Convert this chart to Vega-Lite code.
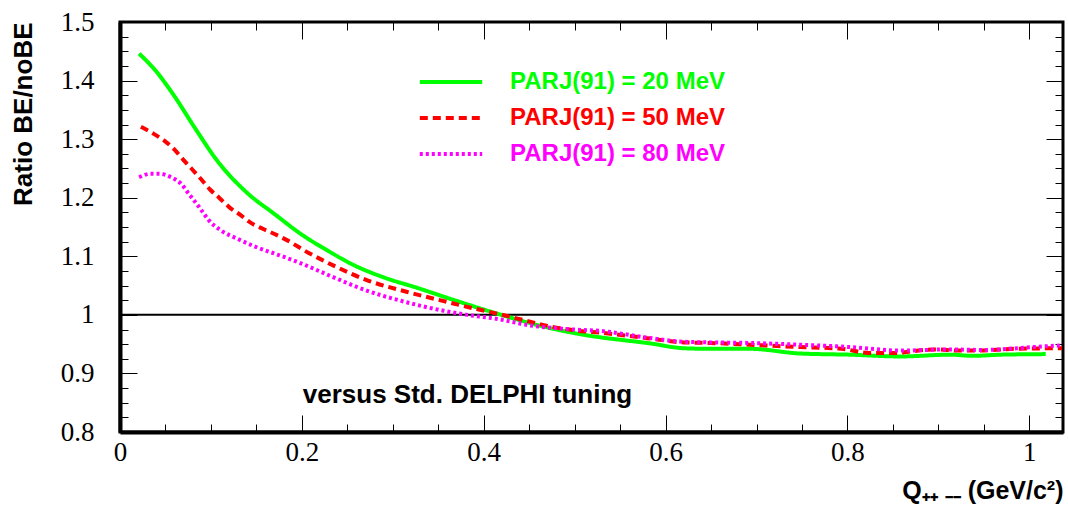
{
  "$schema": "https://vega.github.io/schema/vega-lite/v6.json",
  "width": 943,
  "height": 410,
  "autosize": "none",
  "padding": {"left": 120, "top": 22, "right": 5, "bottom": 75},
  "background": "white",
  "config": {
    "view": {"stroke": "black", "strokeWidth": 3},
    "axis": {"grid": false, "tickColor": "black", "tickWidth": 1, "domainColor": "black", "labelColor": "black", "titleColor": "black"}
  },
  "datasets": {
    "curves": [
      {"series": "PARJ(91) = 20 MeV", "q": 0.021, "r": 1.446},
      {"series": "PARJ(91) = 20 MeV", "q": 0.038, "r": 1.419},
      {"series": "PARJ(91) = 20 MeV", "q": 0.060, "r": 1.373},
      {"series": "PARJ(91) = 20 MeV", "q": 0.082, "r": 1.320},
      {"series": "PARJ(91) = 20 MeV", "q": 0.107, "r": 1.263},
      {"series": "PARJ(91) = 20 MeV", "q": 0.140, "r": 1.208},
      {"series": "PARJ(91) = 20 MeV", "q": 0.170, "r": 1.172},
      {"series": "PARJ(91) = 20 MeV", "q": 0.199, "r": 1.138},
      {"series": "PARJ(91) = 20 MeV", "q": 0.228, "r": 1.110},
      {"series": "PARJ(91) = 20 MeV", "q": 0.257, "r": 1.085},
      {"series": "PARJ(91) = 20 MeV", "q": 0.290, "r": 1.064},
      {"series": "PARJ(91) = 20 MeV", "q": 0.327, "r": 1.046},
      {"series": "PARJ(91) = 20 MeV", "q": 0.364, "r": 1.027},
      {"series": "PARJ(91) = 20 MeV", "q": 0.415, "r": 1.002},
      {"series": "PARJ(91) = 20 MeV", "q": 0.474, "r": 0.977},
      {"series": "PARJ(91) = 20 MeV", "q": 0.510, "r": 0.966},
      {"series": "PARJ(91) = 20 MeV", "q": 0.584, "r": 0.951},
      {"series": "PARJ(91) = 20 MeV", "q": 0.620, "r": 0.943},
      {"series": "PARJ(91) = 20 MeV", "q": 0.649, "r": 0.942},
      {"series": "PARJ(91) = 20 MeV", "q": 0.693, "r": 0.942},
      {"series": "PARJ(91) = 20 MeV", "q": 0.748, "r": 0.934},
      {"series": "PARJ(91) = 20 MeV", "q": 0.803, "r": 0.932},
      {"series": "PARJ(91) = 20 MeV", "q": 0.858, "r": 0.929},
      {"series": "PARJ(91) = 20 MeV", "q": 0.913, "r": 0.932},
      {"series": "PARJ(91) = 20 MeV", "q": 0.938, "r": 0.930},
      {"series": "PARJ(91) = 20 MeV", "q": 0.968, "r": 0.932},
      {"series": "PARJ(91) = 20 MeV", "q": 1.018, "r": 0.933},
      {"series": "PARJ(91) = 50 MeV", "q": 0.023, "r": 1.321},
      {"series": "PARJ(91) = 50 MeV", "q": 0.036, "r": 1.310},
      {"series": "PARJ(91) = 50 MeV", "q": 0.049, "r": 1.297},
      {"series": "PARJ(91) = 50 MeV", "q": 0.060, "r": 1.282},
      {"series": "PARJ(91) = 50 MeV", "q": 0.069, "r": 1.266},
      {"series": "PARJ(91) = 50 MeV", "q": 0.079, "r": 1.249},
      {"series": "PARJ(91) = 50 MeV", "q": 0.089, "r": 1.232},
      {"series": "PARJ(91) = 50 MeV", "q": 0.099, "r": 1.214},
      {"series": "PARJ(91) = 50 MeV", "q": 0.109, "r": 1.200},
      {"series": "PARJ(91) = 50 MeV", "q": 0.120, "r": 1.184},
      {"series": "PARJ(91) = 50 MeV", "q": 0.132, "r": 1.171},
      {"series": "PARJ(91) = 50 MeV", "q": 0.144, "r": 1.157},
      {"series": "PARJ(91) = 50 MeV", "q": 0.157, "r": 1.147},
      {"series": "PARJ(91) = 50 MeV", "q": 0.170, "r": 1.138},
      {"series": "PARJ(91) = 50 MeV", "q": 0.183, "r": 1.128},
      {"series": "PARJ(91) = 50 MeV", "q": 0.206, "r": 1.107},
      {"series": "PARJ(91) = 50 MeV", "q": 0.235, "r": 1.084},
      {"series": "PARJ(91) = 50 MeV", "q": 0.272, "r": 1.059},
      {"series": "PARJ(91) = 50 MeV", "q": 0.316, "r": 1.039},
      {"series": "PARJ(91) = 50 MeV", "q": 0.360, "r": 1.022},
      {"series": "PARJ(91) = 50 MeV", "q": 0.389, "r": 1.011},
      {"series": "PARJ(91) = 50 MeV", "q": 0.415, "r": 1.002},
      {"series": "PARJ(91) = 50 MeV", "q": 0.444, "r": 0.991},
      {"series": "PARJ(91) = 50 MeV", "q": 0.474, "r": 0.980},
      {"series": "PARJ(91) = 50 MeV", "q": 0.503, "r": 0.973},
      {"series": "PARJ(91) = 50 MeV", "q": 0.532, "r": 0.969},
      {"series": "PARJ(91) = 50 MeV", "q": 0.576, "r": 0.961},
      {"series": "PARJ(91) = 50 MeV", "q": 0.620, "r": 0.953},
      {"series": "PARJ(91) = 50 MeV", "q": 0.649, "r": 0.952},
      {"series": "PARJ(91) = 50 MeV", "q": 0.693, "r": 0.949},
      {"series": "PARJ(91) = 50 MeV", "q": 0.748, "r": 0.945},
      {"series": "PARJ(91) = 50 MeV", "q": 0.794, "r": 0.942},
      {"series": "PARJ(91) = 50 MeV", "q": 0.823, "r": 0.935},
      {"series": "PARJ(91) = 50 MeV", "q": 0.853, "r": 0.935},
      {"series": "PARJ(91) = 50 MeV", "q": 0.867, "r": 0.937},
      {"series": "PARJ(91) = 50 MeV", "q": 0.895, "r": 0.941},
      {"series": "PARJ(91) = 50 MeV", "q": 0.924, "r": 0.939},
      {"series": "PARJ(91) = 50 MeV", "q": 0.942, "r": 0.939},
      {"series": "PARJ(91) = 50 MeV", "q": 0.983, "r": 0.942},
      {"series": "PARJ(91) = 50 MeV", "q": 1.036, "r": 0.943},
      {"series": "PARJ(91) = 80 MeV", "q": 0.021, "r": 1.235},
      {"series": "PARJ(91) = 80 MeV", "q": 0.034, "r": 1.241},
      {"series": "PARJ(91) = 80 MeV", "q": 0.043, "r": 1.241},
      {"series": "PARJ(91) = 80 MeV", "q": 0.056, "r": 1.235},
      {"series": "PARJ(91) = 80 MeV", "q": 0.067, "r": 1.224},
      {"series": "PARJ(91) = 80 MeV", "q": 0.076, "r": 1.206},
      {"series": "PARJ(91) = 80 MeV", "q": 0.087, "r": 1.184},
      {"series": "PARJ(91) = 80 MeV", "q": 0.098, "r": 1.161},
      {"series": "PARJ(91) = 80 MeV", "q": 0.111, "r": 1.144},
      {"series": "PARJ(91) = 80 MeV", "q": 0.129, "r": 1.130},
      {"series": "PARJ(91) = 80 MeV", "q": 0.151, "r": 1.115},
      {"series": "PARJ(91) = 80 MeV", "q": 0.173, "r": 1.103},
      {"series": "PARJ(91) = 80 MeV", "q": 0.199, "r": 1.088},
      {"series": "PARJ(91) = 80 MeV", "q": 0.235, "r": 1.064},
      {"series": "PARJ(91) = 80 MeV", "q": 0.272, "r": 1.041},
      {"series": "PARJ(91) = 80 MeV", "q": 0.309, "r": 1.024},
      {"series": "PARJ(91) = 80 MeV", "q": 0.356, "r": 1.007},
      {"series": "PARJ(91) = 80 MeV", "q": 0.382, "r": 1.000},
      {"series": "PARJ(91) = 80 MeV", "q": 0.415, "r": 0.993},
      {"series": "PARJ(91) = 80 MeV", "q": 0.451, "r": 0.982},
      {"series": "PARJ(91) = 80 MeV", "q": 0.488, "r": 0.976},
      {"series": "PARJ(91) = 80 MeV", "q": 0.532, "r": 0.972},
      {"series": "PARJ(91) = 80 MeV", "q": 0.576, "r": 0.962},
      {"series": "PARJ(91) = 80 MeV", "q": 0.620, "r": 0.954},
      {"series": "PARJ(91) = 80 MeV", "q": 0.649, "r": 0.953},
      {"series": "PARJ(91) = 80 MeV", "q": 0.693, "r": 0.952},
      {"series": "PARJ(91) = 80 MeV", "q": 0.748, "r": 0.949},
      {"series": "PARJ(91) = 80 MeV", "q": 0.803, "r": 0.945},
      {"series": "PARJ(91) = 80 MeV", "q": 0.858, "r": 0.939},
      {"series": "PARJ(91) = 80 MeV", "q": 0.913, "r": 0.941},
      {"series": "PARJ(91) = 80 MeV", "q": 0.949, "r": 0.940},
      {"series": "PARJ(91) = 80 MeV", "q": 1.004, "r": 0.945},
      {"series": "PARJ(91) = 80 MeV", "q": 1.036, "r": 0.948}
    ]
  },
  "layer": [
    {
      "data": {"values": [{"r": 1}]},
      "mark": {"type": "rule", "color": "black", "strokeWidth": 2},
      "encoding": {
        "y": {"field": "r", "type": "quantitative", "axis": null, "scale": {"domain": [0.8, 1.5], "nice": false, "zero": false}}
      }
    },
    {
      "data": {"name": "curves"},
      "mark": {"type": "line", "interpolate": "monotone", "strokeWidth": 4},
      "encoding": {
        "x": {
          "field": "q", "type": "quantitative",
          "scale": {"domain": [0, 1.037], "nice": false, "zero": false},
          "axis": {
            "orient": "bottom",
            "values": [0, 0.05, 0.1, 0.15, 0.2, 0.25, 0.3, 0.35, 0.4, 0.45, 0.5, 0.55, 0.6, 0.65, 0.7, 0.75, 0.8, 0.85, 0.9, 0.95, 1.0],
            "labelExpr": "round(datum.value*20) % 4 == 0 ? format(datum.value, '~g') : ''",
            "tickSize": {"condition": {"test": "round(datum.value*20) % 4 == 0", "value": -17}, "value": -8},
            "domainWidth": 4,
            "labelFont": "Liberation Serif", "labelFontSize": 27, "labelPadding": 24,
            "labelFlush": false, "labelOverlap": false,
            "title": "Q₊₊ ₋₋ (GeV/c²)",
            "titleFont": "Liberation Sans", "titleFontWeight": "bold", "titleFontSize": 25,
            "titleAnchor": "end", "titleAlign": "right", "titleAngle": 0,
            "titleX": 943, "titleY": 66, "titleBaseline": "alphabetic"
          }
        },
        "y": {
          "field": "r", "type": "quantitative",
          "scale": {"domain": [0.8, 1.5], "nice": false, "zero": false},
          "axis": {
            "orient": "left",
            "values": [0.8, 0.825, 0.85, 0.875, 0.9, 0.925, 0.95, 0.975, 1.0, 1.025, 1.05, 1.075, 1.1, 1.125, 1.15, 1.175, 1.2, 1.225, 1.25, 1.275, 1.3, 1.325, 1.35, 1.375, 1.4, 1.425, 1.45, 1.475, 1.5],
            "labelExpr": "round(datum.value*40) % 4 == 0 ? format(datum.value, '~g') : ''",
            "tickSize": {"condition": {"test": "round(datum.value*40) % 4 == 0", "value": -17}, "value": -8},
            "domainWidth": 4,
            "labelFont": "Liberation Serif", "labelFontSize": 27, "labelPadding": 43,
            "labelFlush": false, "labelOverlap": false,
            "title": "Ratio BE/noBE",
            "titleFont": "Liberation Sans", "titleFontWeight": "bold", "titleFontSize": 26,
            "titleAngle": -90, "titleAlign": "right", "titleBaseline": "middle",
            "titleX": -97, "titleY": 0
          }
        },
        "color": {
          "field": "series", "type": "nominal",
          "scale": {"domain": ["PARJ(91) = 20 MeV", "PARJ(91) = 50 MeV", "PARJ(91) = 80 MeV"], "range": ["#00ff00", "#ff0000", "#ff00ff"]},
          "legend": {
            "title": null, "orient": "none", "legendX": 313, "legendY": 42,
            "symbolType": "M-1.95,0H1.95", "symbolSize": 1024, "symbolStrokeWidth": 4,
            "labelFont": "Liberation Sans", "labelFontWeight": "bold", "labelFontSize": 24,
            "labelOffset": 41, "rowPadding": 6, "padding": 0, "labelLimit": 400,
            "encode": {"labels": {"update": {"fill": {"scale": "color", "field": "value"}}}}
          }
        },
        "strokeDash": {
          "field": "series", "type": "nominal",
          "scale": {"domain": ["PARJ(91) = 20 MeV", "PARJ(91) = 50 MeV", "PARJ(91) = 80 MeV"], "range": [[1, 0], [8, 5], [3, 3]]},
          "legend": {
            "title": null, "orient": "none", "legendX": 313, "legendY": 42,
            "symbolType": "M-1.95,0H1.95", "symbolSize": 1024, "symbolStrokeWidth": 4,
            "labelFont": "Liberation Sans", "labelFontWeight": "bold", "labelFontSize": 24,
            "labelOffset": 41, "rowPadding": 6, "padding": 0, "labelLimit": 400,
            "encode": {"labels": {"update": {"fill": {"scale": "color", "field": "value"}}}}
          }
        }
      }
    },
    {
      "data": {"values": [{"q": 0.201, "r": 0.849, "label": "versus Std. DELPHI tuning"}]},
      "mark": {"type": "text", "align": "left", "baseline": "alphabetic", "font": "Liberation Sans", "fontWeight": "bold", "fontSize": 26, "color": "black"},
      "encoding": {
        "x": {
          "field": "q", "type": "quantitative",
          "axis": {
            "orient": "top", "labels": false, "title": null, "domain": false,
            "values": [0, 0.05, 0.1, 0.15, 0.2, 0.25, 0.3, 0.35, 0.4, 0.45, 0.5, 0.55, 0.6, 0.65, 0.7, 0.75, 0.8, 0.85, 0.9, 0.95, 1.0],
            "tickSize": {"condition": {"test": "round(datum.value*20) % 4 == 0", "value": -17}, "value": -8}
          }
        },
        "y": {
          "field": "r", "type": "quantitative",
          "axis": {
            "orient": "right", "labels": false, "title": null, "domain": false,
            "values": [0.8, 0.825, 0.85, 0.875, 0.9, 0.925, 0.95, 0.975, 1.0, 1.025, 1.05, 1.075, 1.1, 1.125, 1.15, 1.175, 1.2, 1.225, 1.25, 1.275, 1.3, 1.325, 1.35, 1.375, 1.4, 1.425, 1.45, 1.475, 1.5],
            "tickSize": {"condition": {"test": "round(datum.value*40) % 4 == 0", "value": -17}, "value": -8}
          }
        },
        "text": {"field": "label"}
      }
    }
  ],
  "resolve": {"axis": {"x": "independent", "y": "independent"}}
}
